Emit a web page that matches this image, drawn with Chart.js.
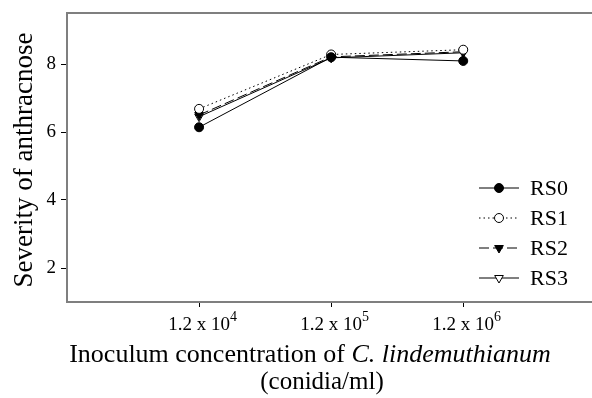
<!DOCTYPE html>
<html>
<head>
<meta charset="utf-8">
<script src="https://cdn.jsdelivr.net/npm/chart.js@4.4.1/dist/chart.umd.min.js"></script>
<style>
  html, body { margin: 0; padding: 0; background: #ffffff; }
  #wrap { width: 592px; height: 398px; position: relative; }
</style>
</head>
<body>
<div id="wrap"><canvas id="c" width="592" height="398"></canvas></div>
<script>
// Inoculum concentrations (x positions 1..3), written as base x 10^exponent
const tickBases = ['1.2 x 10', '1.2 x 10', '1.2 x 10'];
const tickExponents = ['4', '5', '6'];
const yTicks = [2, 4, 6, 8];

// Severity of anthracnose for each seed treatment
const seriesNames = ['RS0', 'RS1', 'RS2', 'RS3'];
const rs0 = [6.14, 8.20, 8.09];
const rs1 = [6.68, 8.28, 8.42];
const rs2 = [6.50, 8.21, 8.36];
const rs3 = [6.45, 8.18, 8.33];

const SERIF = '"Liberation Serif", "Times New Roman", serif';

function toPoints(values) {
  return values.map((v, i) => ({ x: i + 1, y: v }));
}

const styles = [
  { borderDash: [], pointStyle: 'circle', rotation: 0, fill: '#000000', radius: 4.5 },
  { borderDash: [1.5, 3], pointStyle: 'circle', rotation: 0, fill: '#ffffff', radius: 4.5 },
  { borderDash: [10, 4], pointStyle: 'triangle', rotation: 180, fill: '#000000', radius: 5 },
  { borderDash: [], pointStyle: 'triangle', rotation: 180, fill: '#ffffff', radius: 5 }
];

const seriesValues = [rs0, rs1, rs2, rs3];
const datasets = seriesValues.map((vals, i) => ({
  label: seriesNames[i],
  data: toPoints(vals),
  borderColor: '#000000',
  borderWidth: 1,
  borderDash: styles[i].borderDash,
  pointStyle: styles[i].pointStyle,
  pointRotation: styles[i].rotation,
  pointRadius: styles[i].radius,
  pointBackgroundColor: styles[i].fill,
  pointBorderColor: '#000000',
  pointBorderWidth: 1,
  fill: false,
  tension: 0
}));

// Top border of the plot frame
const framePlugin = {
  id: 'frame',
  afterDatasetsDraw(chart) {
    const { ctx, chartArea } = chart;
    ctx.save();
    ctx.strokeStyle = '#7f7f7f';
    ctx.lineWidth = 2;
    ctx.beginPath();
    ctx.moveTo(chartArea.left - 1, chartArea.top);
    ctx.lineTo(chart.width, chartArea.top);
    ctx.stroke();
    ctx.restore();
  }
};

// x tick labels with superscript exponents, plus both axis titles
const labelsPlugin = {
  id: 'labels',
  afterDraw(chart) {
    const { ctx } = chart;
    const xs = chart.scales.x;
    ctx.save();
    ctx.fillStyle = '#000000';
    ctx.textBaseline = 'alphabetic';
    tickBases.forEach((base, i) => {
      const px = xs.getPixelForValue(i + 1);
      ctx.font = '19px ' + SERIF;
      const w = ctx.measureText(base).width;
      const x0 = px - w / 2;
      ctx.textAlign = 'left';
      ctx.fillText(base, x0, 330);
      ctx.font = '14px ' + SERIF;
      ctx.fillText(tickExponents[i], x0 + w, 321);
    });

    // x-axis title: mixed upright and italic text
    const part1 = 'Inoculum concentration of ';
    const part2 = 'C. lindemuthianum';
    ctx.font = '26px ' + SERIF;
    const w1 = ctx.measureText(part1).width;
    ctx.font = 'italic 26px ' + SERIF;
    const w2 = ctx.measureText(part2).width;
    const cx = 310;
    const start = cx - (w1 + w2) / 2;
    ctx.textAlign = 'left';
    ctx.font = '26px ' + SERIF;
    ctx.fillText(part1, start, 362);
    ctx.font = 'italic 26px ' + SERIF;
    ctx.fillText(part2, start + w1, 362);
    ctx.font = '25px ' + SERIF;
    ctx.textAlign = 'center';
    ctx.fillText('(conidia/ml)', 322, 389);

    // y-axis title
    ctx.translate(25, 160);
    ctx.rotate(-Math.PI / 2);
    ctx.textAlign = 'center';
    ctx.textBaseline = 'middle';
    ctx.font = '27px ' + SERIF;
    ctx.fillText('Severity of anthracnose', 0, 0);
    ctx.restore();
  }
};

// Legend: line sample with marker, then the series name
const legendPlugin = {
  id: 'customLegend',
  afterDraw(chart) {
    const { ctx } = chart;
    const rowY = [188, 218, 248, 278];
    const lineX0 = 479, lineX1 = 519, markX = 499, textX = 530;
    ctx.save();
    chart.data.datasets.forEach((ds, i) => {
      const y = rowY[i];
      ctx.strokeStyle = '#000000';
      ctx.lineWidth = 1;
      ctx.setLineDash(ds.borderDash);
      ctx.beginPath();
      ctx.moveTo(lineX0, y);
      ctx.lineTo(lineX1, y);
      ctx.stroke();
      ctx.setLineDash([]);
      ctx.fillStyle = ds.pointBackgroundColor;
      ctx.strokeStyle = '#000000';
      Chart.helpers.drawPoint(ctx, {
        pointStyle: ds.pointStyle,
        rotation: ds.pointRotation,
        radius: ds.pointRadius,
        borderWidth: 1
      }, markX, y);
      ctx.fillStyle = '#000000';
      ctx.font = '22px ' + SERIF;
      ctx.textAlign = 'left';
      ctx.textBaseline = 'middle';
      ctx.fillText(ds.label, textX, y + 1);
    });
    ctx.restore();
  }
};

new Chart(document.getElementById('c'), {
  type: 'line',
  data: { datasets },
  plugins: [framePlugin, labelsPlugin, legendPlugin],
  options: {
    responsive: false,
    animation: false,
    events: [],
    layout: { autoPadding: false, padding: { top: 13, right: 0, left: 0, bottom: 0 } },
    plugins: { legend: { display: false }, tooltip: { enabled: false } },
    scales: {
      x: {
        type: 'linear',
        min: 0,
        max: 3.975,
        afterFit(scale) {
          scale.height = 96;
          scale.paddingLeft = 0;
          scale.paddingRight = 0;
        },
        afterBuildTicks(scale) { scale.ticks = [1, 2, 3].map(v => ({ value: v })); },
        border: { display: true, color: '#7f7f7f', width: 2 },
        grid: { drawOnChartArea: false, drawTicks: true, tickLength: 5, tickColor: '#000000', tickWidth: 1 },
        ticks: { display: false }
      },
      y: {
        type: 'linear',
        min: 1,
        max: 9.5,
        afterFit(scale) {
          scale.width = 67;
          scale.paddingTop = 0;
          scale.paddingBottom = 0;
        },
        afterBuildTicks(scale) { scale.ticks = yTicks.map(v => ({ value: v })); },
        border: { display: true, color: '#7f7f7f', width: 2 },
        grid: { drawOnChartArea: false, drawTicks: true, tickLength: 6, tickColor: '#000000', tickWidth: 1 },
        ticks: {
          color: '#000000',
          padding: 5,
          font: { family: SERIF, size: 19 },
          callback: (v) => String(v)
        }
      }
    }
  }
});
</script>
</body>
</html>
